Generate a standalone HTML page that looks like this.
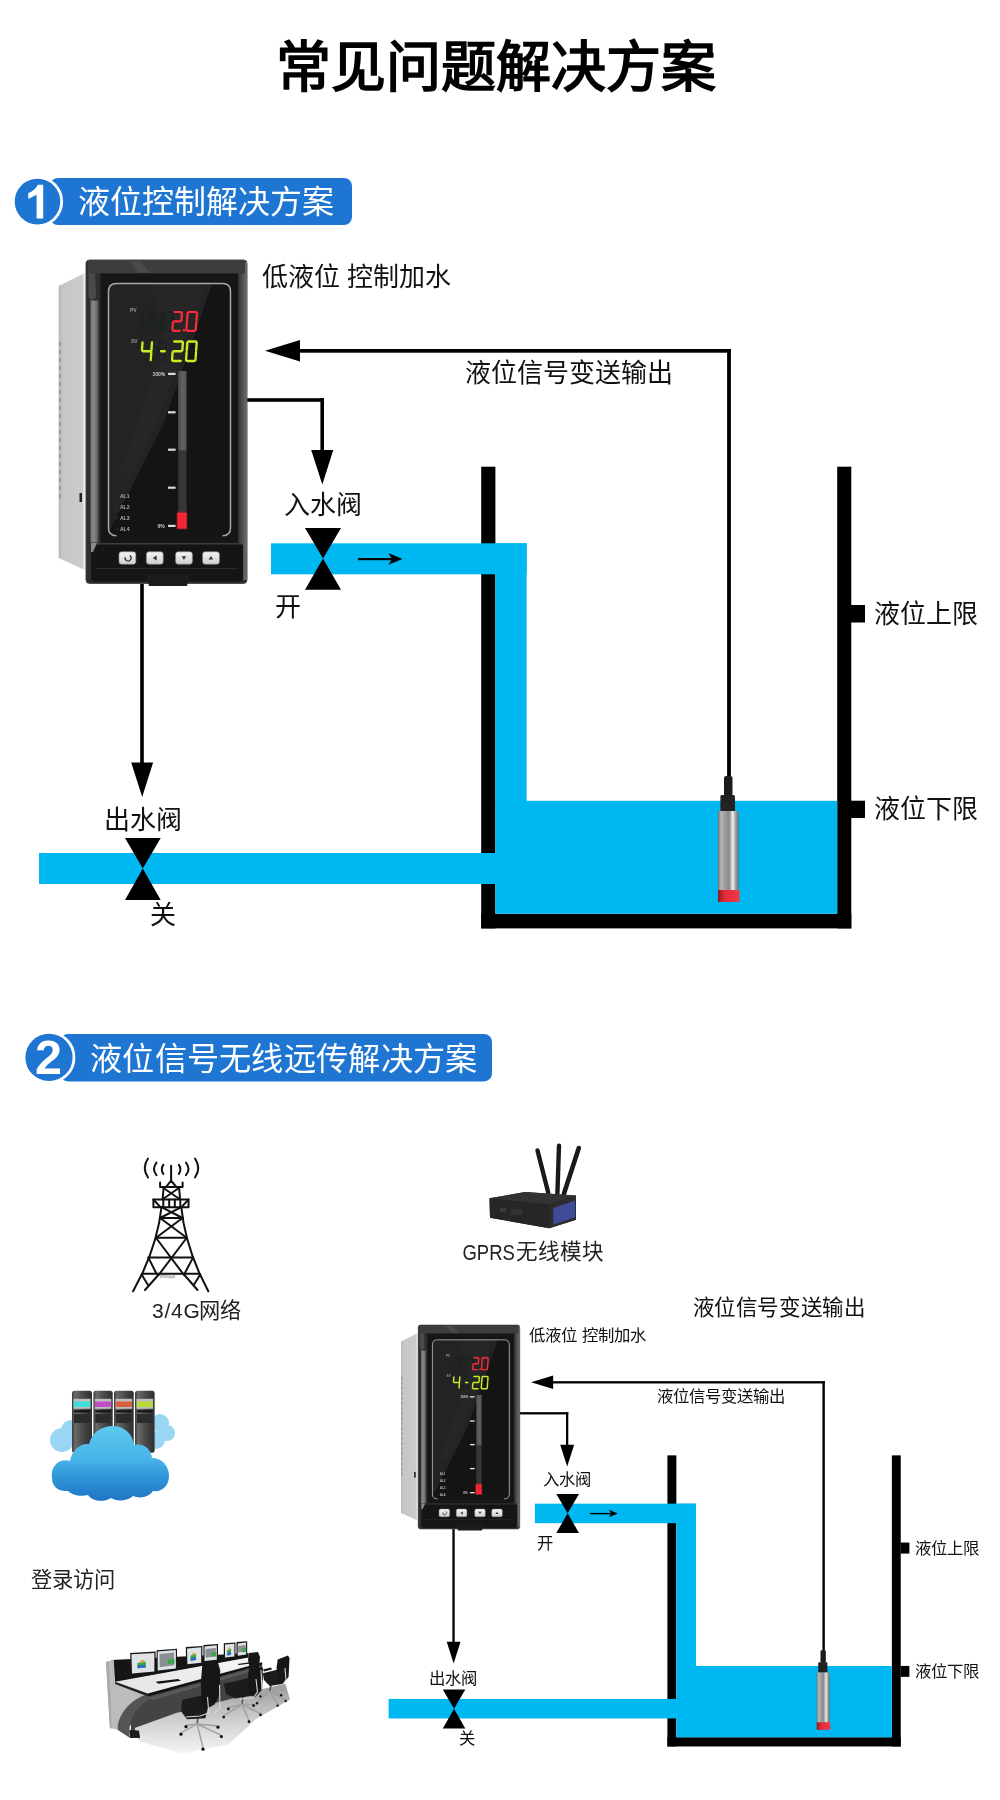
<!DOCTYPE html>
<html lang="zh-CN"><head><meta charset="utf-8"><title>常见问题解决方案</title>
<style>
html,body{margin:0;padding:0;background:#fff;}
body{width:1000px;height:1800px;overflow:hidden;position:relative;font-family:"Liberation Sans",sans-serif;}
svg{position:absolute;left:0;top:0;display:block;will-change:transform;}
svg text{font-family:"Liberation Sans",sans-serif;}
</style></head><body>
<svg width="1000" height="1800" viewBox="0 0 1000 1800">
<text x="495.5" y="86" text-anchor="middle" font-size="55" font-weight="bold" fill="#000">常见问题解决方案</text>
<!-- badge 1 -->
<rect x="50" y="178" width="302" height="47" rx="8" fill="#1e76d2"/>
<circle cx="37.5" cy="201.6" r="24.2" fill="#1e76d2" stroke="#fff" stroke-width="2.8"/>
<path d="M37.9,184.8 L43.2,184.8 L43.2,218.6 L36.6,218.6 L36.6,194.7 L28.3,198.9 L28.3,193.1 C32.5,191.5 35.9,188.8 37.9,184.8 Z" fill="#fff"/>
<text x="78" y="213" font-size="32" fill="#fff">液位控制解决方案</text>
<!-- badge 2 -->
<rect x="60" y="1034" width="432" height="47.4" rx="8" fill="#1e76d2"/>
<circle cx="49" cy="1057.4" r="25" fill="#1e76d2" stroke="#fff" stroke-width="2.8"/>
<text x="48.5" y="1074.2" text-anchor="middle" font-size="48.5" font-weight="bold" fill="#fff">2</text>
<text x="90" y="1069.5" font-size="32.2" letter-spacing="0.3" fill="#fff">液位信号无线远传解决方案</text>
<g>
<!-- tank walls -->
<rect x="481.2" y="466.7" width="14.2" height="461.7" fill="#000"/>
<rect x="837.2" y="466.7" width="14.1" height="461.7" fill="#000"/>
<rect x="481.2" y="913.8" width="370.1" height="14.6" fill="#000"/>
<rect x="851" y="605" width="14" height="17.5" fill="#000"/>
<rect x="851" y="800.7" width="14" height="17.3" fill="#000"/>
<!-- water -->
<g fill="#00b8f1">
<rect x="271" y="543.3" width="255.6" height="31"/>
<rect x="495.4" y="543.3" width="31.2" height="258"/>
<rect x="495.4" y="800.8" width="341.8" height="113"/>
<rect x="39" y="853" width="457" height="31"/>
</g>
<!-- valves -->
<polygon points="305,528 341,528 323,558.6 341,589.8 305,589.8 323,558.6" fill="#000"/>
<polygon points="125,838 160.7,838 142.8,868.5 160.7,900 125,900 142.8,868.5" fill="#000"/>
<!-- small flow arrow -->
<rect x="358" y="558" width="34" height="2.2" fill="#000"/>
<path d="M388.5,553 L402.5,559.1 L388.5,564.8 L392,559.1 Z" fill="#000"/>
<!-- signal line -->
<rect x="298" y="349" width="433" height="3.7" fill="#000"/>
<rect x="727.1" y="349" width="3.8" height="430" fill="#000"/>
<polygon points="265,350.8 300,340 300,361.6" fill="#000"/>
<!-- control to inlet valve -->
<rect x="246" y="398.2" width="78" height="3.6" fill="#000"/>
<rect x="320.4" y="398.2" width="3.6" height="54" fill="#000"/>
<polygon points="311.2,450 333.3,450 322.3,484.5" fill="#000"/>
<!-- control to outlet -->
<rect x="140.2" y="580" width="3.6" height="185" fill="#000"/>
<polygon points="131.2,762.5 153.1,762.5 142.2,797" fill="#000"/>
<!-- sensor -->
<defs>
<linearGradient id="steel" x1="0" x2="1" y1="0" y2="0">
<stop offset="0" stop-color="#6e6e6e"/><stop offset="0.15" stop-color="#b8b8b8"/><stop offset="0.35" stop-color="#9a9a9a"/><stop offset="0.55" stop-color="#8c8c8c"/><stop offset="0.72" stop-color="#f0f0f0"/><stop offset="0.85" stop-color="#a8a8a8"/><stop offset="1" stop-color="#6a6a6a"/>
</linearGradient>
<linearGradient id="redcap" x1="0" x2="1" y1="0" y2="0">
<stop offset="0" stop-color="#8a1a22"/><stop offset="0.3" stop-color="#e02a38"/><stop offset="1" stop-color="#f23a44"/>
</linearGradient>
</defs>
<rect x="724" y="776" width="8.5" height="20" rx="2" fill="#1c1c1c"/>
<rect x="720.4" y="795" width="14.6" height="16.5" rx="1.5" fill="#222"/>
<rect x="718" y="811" width="20.5" height="79.5" fill="url(#steel)"/>
<rect x="718" y="890" width="21.5" height="12" fill="url(#redcap)"/>
<!-- texts -->
<g font-size="26" fill="#111">
<text x="262" y="286">低液位 控制加水</text>
<text x="465" y="382">液位信号变送输出</text>
<text x="284" y="514">入水阀</text>
<text x="275" y="616">开</text>
<text x="103.5" y="829">出水阀</text>
<text x="150" y="924">关</text>
<text x="874" y="623">液位上限</text>
<text x="874" y="818">液位下限</text>
</g>
<!-- device placeholder -->
<g id="dev">
<defs>
<linearGradient id="sideG" x1="0" x2="1" y1="0" y2="0"><stop offset="0" stop-color="#b4b4b4"/><stop offset="0.12" stop-color="#c6c6c6"/><stop offset="0.85" stop-color="#cbcbcb"/><stop offset="0.9" stop-color="#eeeeee"/><stop offset="1" stop-color="#f2f2f2"/></linearGradient>
<linearGradient id="bezL" x1="0" x2="1" y1="0" y2="0"><stop offset="0" stop-color="#6a6a6a"/><stop offset="0.4" stop-color="#8a8a8a"/><stop offset="1" stop-color="#5a5a5a"/></linearGradient>
<linearGradient id="bezR" x1="0" x2="1" y1="0" y2="0"><stop offset="0" stop-color="#2a2a2a"/><stop offset="0.4" stop-color="#4a4a4a"/><stop offset="1" stop-color="#6a6e72"/></linearGradient>
<linearGradient id="barG" x1="0" x2="1" y1="0" y2="0"><stop offset="0" stop-color="#4a4a4a"/><stop offset="0.5" stop-color="#626262"/><stop offset="1" stop-color="#555"/></linearGradient>
<linearGradient id="btnG" x1="0" x2="0" y1="0" y2="1"><stop offset="0" stop-color="#f4f4f4"/><stop offset="1" stop-color="#cfcfcf"/></linearGradient>
</defs>
<polygon points="58.7,286 84,273.5 87,273.5 87,571 58.7,558" fill="url(#sideG)"/>
<g fill="#9c9c9c">
<rect x="59" y="342" width="2.2" height="4.5"/>
<rect x="59" y="350" width="2.2" height="4.5"/>
<rect x="59" y="358" width="2.2" height="4.5"/>
<rect x="59" y="366" width="2.2" height="4.5"/>
<rect x="59" y="374" width="2.2" height="4.5"/>
<rect x="59" y="382" width="2.2" height="4.5"/>
<rect x="59" y="390" width="2.2" height="4.5"/>
<rect x="59" y="398" width="2.2" height="4.5"/>
<rect x="59" y="406" width="2.2" height="4.5"/>
<rect x="59" y="414" width="2.2" height="4.5"/>
<rect x="59" y="422" width="2.2" height="4.5"/>
<rect x="59" y="430" width="2.2" height="4.5"/>
<rect x="59" y="438" width="2.2" height="4.5"/>
<rect x="59" y="446" width="2.2" height="4.5"/>
<rect x="59" y="454" width="2.2" height="4.5"/>
<rect x="59" y="462" width="2.2" height="4.5"/>
<rect x="59" y="470" width="2.2" height="4.5"/>
<rect x="59" y="478" width="2.2" height="4.5"/>
<rect x="59" y="486" width="2.2" height="4.5"/>
<rect x="59" y="494" width="2.2" height="4.5"/>
</g>
<rect x="79.5" y="493" width="2.5" height="9" fill="#222"/>
<rect x="86" y="260" width="161" height="323.5" rx="3.5" fill="#2b2b2b" stroke="#505050" stroke-width="1"/>
<rect x="86.5" y="262" width="14" height="318" fill="#2e2e2e"/>
<rect x="90.4" y="300.5" width="7.8" height="242" fill="url(#bezL)"/>
<path d="M88.5,264 L95,268 L96,297 L92,300 L88.5,297 Z" fill="#4a4a4a"/>
<rect x="237.5" y="262" width="9.5" height="318" fill="url(#bezR)"/>
<rect x="88" y="261" width="157" height="12.5" fill="#3d3d3d"/>
<polygon points="130,261 140,261 150,273 138,273" fill="#4a4a4a"/>
<rect x="100.5" y="273.5" width="137.5" height="270" fill="#161616"/>
<rect x="108.5" y="283.5" width="122" height="252" rx="7" fill="#141414"/>
<polygon points="108.5,284 212,284 184,365 163,425 125,500 108.5,532" fill="#232323"/>
<polygon points="150,284 205,284 180,360 158,420 130,480 120,470 145,400 165,340" fill="#282828" opacity="0.6"/>
<path d="M116.5,535.8 Q108.5,535.8 108.5,527.8 L108.5,291.5 Q108.5,283.5 116.5,283.5 L222.5,283.5 Q230.5,283.5 230.5,291.5 L230.5,527.8 Q230.5,535.8 222.5,535.8" fill="none" stroke="#a8a8a8" stroke-width="1.5"/>
<g font-size="5" fill="#9a9a9a" font-weight="bold">
<text x="130" y="311.5">PV</text><text x="131" y="342.5">SV</text>
</g>

<path d="M143.73,312.00L149.93,312.00M150.77,312.90L150.23,320.60M150.10,322.40L149.56,330.10M142.40,331.00L148.60,331.00M142.10,322.40L141.56,330.10M142.77,312.90L142.23,320.60M143.06,321.50L149.26,321.50" stroke="#1c2222" stroke-width="1.8" stroke-linecap="round" fill="none"/>
<path d="M154.73,312.00L160.93,312.00M161.77,312.90L161.23,320.60M161.10,322.40L160.56,330.10M153.40,331.00L159.60,331.00M153.10,322.40L152.56,330.10M153.77,312.90L153.23,320.60M154.06,321.50L160.26,321.50" stroke="#1c2222" stroke-width="1.8" stroke-linecap="round" fill="none"/>
<path d="M165.73,312.00L171.93,312.00M172.77,312.90L172.23,320.60M172.10,322.40L171.56,330.10M164.40,331.00L170.60,331.00M164.10,322.40L163.56,330.10M164.77,312.90L164.23,320.60M165.06,321.50L171.26,321.50" stroke="#1c2222" stroke-width="1.8" stroke-linecap="round" fill="none"/>
<path d="M174.52,312.00L181.12,312.00M181.95,312.90L181.42,320.50M173.86,321.40L180.46,321.40M172.90,322.30L172.36,329.90M173.20,330.80L179.80,330.80" stroke="#ff2b3a" stroke-width="2.2" stroke-linecap="round" fill="none"/>
<rect x="182.9" y="328.9" width="2.4" height="2.4" fill="#ff2b3a"/>
<path d="M188.52,312.00L196.12,312.00M196.95,312.90L196.42,320.50M196.30,322.30L195.76,329.90M187.20,330.80L194.80,330.80M186.90,322.30L186.36,329.90M187.55,312.90L187.02,320.50" stroke="#ff2b3a" stroke-width="2.2" stroke-linecap="round" fill="none"/>
<path d="M159.73,341.50L165.43,341.50M166.27,342.40L165.73,350.10M165.60,351.90L165.06,359.60M158.40,360.50L164.10,360.50M158.10,351.90L157.56,359.60M158.77,342.40L158.23,350.10M159.06,351.00L164.76,351.00" stroke="#1c2222" stroke-width="1.8" stroke-linecap="round" fill="none"/>
<path d="M142.50,342.40L141.95,350.35M142.78,351.25L150.48,351.25M152.00,342.40L151.45,350.35M151.32,352.15L150.76,360.10" stroke="#c6ee22" stroke-width="2.3" stroke-linecap="round" fill="none"/>
<path d="M161.08,351.25L164.78,351.25" stroke="#c6ee22" stroke-width="2.3" stroke-linecap="round" fill="none"/>
<path d="M174.27,341.50L182.06,341.50M182.90,342.40L182.35,350.35M173.58,351.25L181.38,351.25M172.62,352.15L172.06,360.10M172.90,361.00L180.70,361.00" stroke="#c6ee22" stroke-width="2.3" stroke-linecap="round" fill="none"/>
<path d="M188.27,341.50L195.87,341.50M196.70,342.40L196.15,350.35M196.02,352.15L195.46,360.10M186.90,361.00L194.50,361.00M186.62,352.15L186.06,360.10M187.30,342.40L186.75,350.35" stroke="#c6ee22" stroke-width="2.3" stroke-linecap="round" fill="none"/>
<rect x="178.2" y="371" width="8.2" height="157.5" fill="#3a3a3a"/>
<rect x="178.2" y="371" width="8.2" height="79.5" fill="url(#barG)"/>
<g stroke="#2c2c2c" stroke-width="0.6">
<line x1="178.2" y1="451.0" x2="186.4" y2="451.0"/>
<line x1="178.2" y1="453.5" x2="186.4" y2="453.5"/>
<line x1="178.2" y1="456.0" x2="186.4" y2="456.0"/>
<line x1="178.2" y1="458.5" x2="186.4" y2="458.5"/>
<line x1="178.2" y1="461.0" x2="186.4" y2="461.0"/>
<line x1="178.2" y1="463.5" x2="186.4" y2="463.5"/>
<line x1="178.2" y1="466.0" x2="186.4" y2="466.0"/>
<line x1="178.2" y1="468.5" x2="186.4" y2="468.5"/>
<line x1="178.2" y1="471.0" x2="186.4" y2="471.0"/>
<line x1="178.2" y1="473.5" x2="186.4" y2="473.5"/>
<line x1="178.2" y1="476.0" x2="186.4" y2="476.0"/>
<line x1="178.2" y1="478.5" x2="186.4" y2="478.5"/>
<line x1="178.2" y1="481.0" x2="186.4" y2="481.0"/>
<line x1="178.2" y1="483.5" x2="186.4" y2="483.5"/>
<line x1="178.2" y1="486.0" x2="186.4" y2="486.0"/>
<line x1="178.2" y1="488.5" x2="186.4" y2="488.5"/>
<line x1="178.2" y1="491.0" x2="186.4" y2="491.0"/>
<line x1="178.2" y1="493.5" x2="186.4" y2="493.5"/>
<line x1="178.2" y1="496.0" x2="186.4" y2="496.0"/>
<line x1="178.2" y1="498.5" x2="186.4" y2="498.5"/>
<line x1="178.2" y1="501.0" x2="186.4" y2="501.0"/>
<line x1="178.2" y1="503.5" x2="186.4" y2="503.5"/>
<line x1="178.2" y1="506.0" x2="186.4" y2="506.0"/>
<line x1="178.2" y1="508.5" x2="186.4" y2="508.5"/>
<line x1="178.2" y1="511.0" x2="186.4" y2="511.0"/>
</g>
<rect x="176.5" y="511.5" width="11" height="18" fill="#ff2030" opacity="0.35"/>
<rect x="177.4" y="513" width="9" height="15.5" fill="#ff2a36"/>
<g stroke="#d42030" stroke-width="0.5"><line x1="177.4" y1="516" x2="186.4" y2="516"/><line x1="177.4" y1="519" x2="186.4" y2="519"/><line x1="177.4" y1="522" x2="186.4" y2="522"/><line x1="177.4" y1="525" x2="186.4" y2="525"/><line x1="180.4" y1="513" x2="180.4" y2="528.5"/><line x1="183.4" y1="513" x2="183.4" y2="528.5"/></g>
<g fill="#d8d8d8">
<rect x="168" y="372.8" width="7.6" height="2.2"/><rect x="168" y="411.2" width="7.6" height="2.2"/><rect x="168" y="448.6" width="7.6" height="2.2"/><rect x="168" y="486.6" width="7.6" height="2.2"/><rect x="168" y="524.8" width="7.6" height="2.2"/>
</g>
<g font-size="5" fill="#d0d0d0" font-weight="bold"><text x="152.5" y="376">100%</text><text x="157.5" y="528">0%</text></g>
<g font-size="5" fill="#b0b0b0" font-weight="bold"><text x="120" y="497.5">AL1</text><text x="120" y="508.7">AL2</text><text x="120" y="519.7">AL3</text><text x="120" y="531">AL4</text></g>
<g fill="#3a2020"><circle cx="117" cy="495.7" r="1.3"/><circle cx="117" cy="507" r="1.3"/><circle cx="117" cy="518" r="1.3"/><circle cx="117" cy="529.3" r="1.3"/></g>
<rect x="91" y="543" width="152" height="38.5" rx="4" fill="#151515"/>
<rect x="92" y="543" width="150" height="1.5" fill="#3c3c3c"/>
<rect x="96" y="568" width="142" height="1" fill="#2a2a2a"/>
<polygon points="91,543 97,543 93,552 91,552" fill="#8a8a8a"/>
<polygon points="146,574 190,574 187,586 149,586" fill="#1b1b1b"/>

<rect x="119" y="551.8" width="16.8" height="12.4" rx="2.6" fill="url(#btnG)" stroke="#8a8a8a" stroke-width="0.6"/>
<rect x="146.4" y="551.8" width="16.8" height="12.4" rx="2.6" fill="url(#btnG)" stroke="#8a8a8a" stroke-width="0.6"/>
<rect x="175.6" y="551.8" width="16.8" height="12.4" rx="2.6" fill="url(#btnG)" stroke="#8a8a8a" stroke-width="0.6"/>
<rect x="202.6" y="551.8" width="16.8" height="12.4" rx="2.6" fill="url(#btnG)" stroke="#8a8a8a" stroke-width="0.6"/>
<path d="M129.9,555.6 A3,3 0 1 1 125.2,557.2" fill="none" stroke="#333" stroke-width="1.3"/>
<polygon points="152.8,558 156.6,555.6 156.6,560.4" fill="#333"/>
<polygon points="181.6,556.3 186.2,556.3 183.9,559.8" fill="#333"/>
<polygon points="208.6,559.6 213.2,559.6 210.9,556.1" fill="#333"/>
</g>
</g>
<g transform="translate(364.0,1161.1) scale(0.6305)">
<!-- tank walls -->
<rect x="481.2" y="466.7" width="14.2" height="461.7" fill="#000"/>
<rect x="837.2" y="466.7" width="14.1" height="461.7" fill="#000"/>
<rect x="481.2" y="913.8" width="370.1" height="14.6" fill="#000"/>
<rect x="851" y="605" width="14" height="17.5" fill="#000"/>
<rect x="851" y="800.7" width="14" height="17.3" fill="#000"/>
<!-- water -->
<g fill="#00b8f1">
<rect x="271" y="543.3" width="255.6" height="31"/>
<rect x="495.4" y="543.3" width="31.2" height="258"/>
<rect x="495.4" y="800.8" width="341.8" height="113"/>
<rect x="39" y="853" width="457" height="31"/>
</g>
<!-- valves -->
<polygon points="305,528 341,528 323,558.6 341,589.8 305,589.8 323,558.6" fill="#000"/>
<polygon points="125,838 160.7,838 142.8,868.5 160.7,900 125,900 142.8,868.5" fill="#000"/>
<!-- small flow arrow -->
<rect x="358" y="558" width="34" height="2.2" fill="#000"/>
<path d="M388.5,553 L402.5,559.1 L388.5,564.8 L392,559.1 Z" fill="#000"/>
<!-- signal line -->
<rect x="298" y="349" width="433" height="3.7" fill="#000"/>
<rect x="727.1" y="349" width="3.8" height="430" fill="#000"/>
<polygon points="265,350.8 300,340 300,361.6" fill="#000"/>
<!-- control to inlet valve -->
<rect x="246" y="398.2" width="78" height="3.6" fill="#000"/>
<rect x="320.4" y="398.2" width="3.6" height="54" fill="#000"/>
<polygon points="311.2,450 333.3,450 322.3,484.5" fill="#000"/>
<!-- control to outlet -->
<rect x="140.2" y="580" width="3.6" height="185" fill="#000"/>
<polygon points="131.2,762.5 153.1,762.5 142.2,797" fill="#000"/>
<!-- sensor -->

<rect x="724" y="776" width="8.5" height="20" rx="2" fill="#1c1c1c"/>
<rect x="720.4" y="795" width="14.6" height="16.5" rx="1.5" fill="#222"/>
<rect x="718" y="811" width="20.5" height="79.5" fill="url(#steel)"/>
<rect x="718" y="890" width="21.5" height="12" fill="url(#redcap)"/>
<!-- texts -->
<g font-size="26" fill="#111">
<text x="262" y="286">低液位 控制加水</text>
<text x="465" y="382">液位信号变送输出</text>
<text x="284" y="514">入水阀</text>
<text x="275" y="616">开</text>
<text x="103.5" y="829">出水阀</text>
<text x="150" y="924">关</text>
<text x="874" y="623">液位上限</text>
<text x="874" y="818">液位下限</text>
</g>
<!-- device placeholder -->
<g>

<polygon points="58.7,286 84,273.5 87,273.5 87,571 58.7,558" fill="url(#sideG)"/>
<g fill="#9c9c9c">
<rect x="59" y="342" width="2.2" height="4.5"/>
<rect x="59" y="350" width="2.2" height="4.5"/>
<rect x="59" y="358" width="2.2" height="4.5"/>
<rect x="59" y="366" width="2.2" height="4.5"/>
<rect x="59" y="374" width="2.2" height="4.5"/>
<rect x="59" y="382" width="2.2" height="4.5"/>
<rect x="59" y="390" width="2.2" height="4.5"/>
<rect x="59" y="398" width="2.2" height="4.5"/>
<rect x="59" y="406" width="2.2" height="4.5"/>
<rect x="59" y="414" width="2.2" height="4.5"/>
<rect x="59" y="422" width="2.2" height="4.5"/>
<rect x="59" y="430" width="2.2" height="4.5"/>
<rect x="59" y="438" width="2.2" height="4.5"/>
<rect x="59" y="446" width="2.2" height="4.5"/>
<rect x="59" y="454" width="2.2" height="4.5"/>
<rect x="59" y="462" width="2.2" height="4.5"/>
<rect x="59" y="470" width="2.2" height="4.5"/>
<rect x="59" y="478" width="2.2" height="4.5"/>
<rect x="59" y="486" width="2.2" height="4.5"/>
<rect x="59" y="494" width="2.2" height="4.5"/>
</g>
<rect x="79.5" y="493" width="2.5" height="9" fill="#222"/>
<rect x="86" y="260" width="161" height="323.5" rx="3.5" fill="#2b2b2b" stroke="#505050" stroke-width="1"/>
<rect x="86.5" y="262" width="14" height="318" fill="#2e2e2e"/>
<rect x="90.4" y="300.5" width="7.8" height="242" fill="url(#bezL)"/>
<path d="M88.5,264 L95,268 L96,297 L92,300 L88.5,297 Z" fill="#4a4a4a"/>
<rect x="237.5" y="262" width="9.5" height="318" fill="url(#bezR)"/>
<rect x="88" y="261" width="157" height="12.5" fill="#3d3d3d"/>
<polygon points="130,261 140,261 150,273 138,273" fill="#4a4a4a"/>
<rect x="100.5" y="273.5" width="137.5" height="270" fill="#161616"/>
<rect x="108.5" y="283.5" width="122" height="252" rx="7" fill="#141414"/>
<polygon points="108.5,284 212,284 184,365 163,425 125,500 108.5,532" fill="#232323"/>
<polygon points="150,284 205,284 180,360 158,420 130,480 120,470 145,400 165,340" fill="#282828" opacity="0.6"/>
<path d="M116.5,535.8 Q108.5,535.8 108.5,527.8 L108.5,291.5 Q108.5,283.5 116.5,283.5 L222.5,283.5 Q230.5,283.5 230.5,291.5 L230.5,527.8 Q230.5,535.8 222.5,535.8" fill="none" stroke="#a8a8a8" stroke-width="1.5"/>
<g font-size="5" fill="#9a9a9a" font-weight="bold">
<text x="130" y="311.5">PV</text><text x="131" y="342.5">SV</text>
</g>

<path d="M143.73,312.00L149.93,312.00M150.77,312.90L150.23,320.60M150.10,322.40L149.56,330.10M142.40,331.00L148.60,331.00M142.10,322.40L141.56,330.10M142.77,312.90L142.23,320.60M143.06,321.50L149.26,321.50" stroke="#1c2222" stroke-width="1.8" stroke-linecap="round" fill="none"/>
<path d="M154.73,312.00L160.93,312.00M161.77,312.90L161.23,320.60M161.10,322.40L160.56,330.10M153.40,331.00L159.60,331.00M153.10,322.40L152.56,330.10M153.77,312.90L153.23,320.60M154.06,321.50L160.26,321.50" stroke="#1c2222" stroke-width="1.8" stroke-linecap="round" fill="none"/>
<path d="M165.73,312.00L171.93,312.00M172.77,312.90L172.23,320.60M172.10,322.40L171.56,330.10M164.40,331.00L170.60,331.00M164.10,322.40L163.56,330.10M164.77,312.90L164.23,320.60M165.06,321.50L171.26,321.50" stroke="#1c2222" stroke-width="1.8" stroke-linecap="round" fill="none"/>
<path d="M174.52,312.00L181.12,312.00M181.95,312.90L181.42,320.50M173.86,321.40L180.46,321.40M172.90,322.30L172.36,329.90M173.20,330.80L179.80,330.80" stroke="#ff2b3a" stroke-width="2.2" stroke-linecap="round" fill="none"/>
<rect x="182.9" y="328.9" width="2.4" height="2.4" fill="#ff2b3a"/>
<path d="M188.52,312.00L196.12,312.00M196.95,312.90L196.42,320.50M196.30,322.30L195.76,329.90M187.20,330.80L194.80,330.80M186.90,322.30L186.36,329.90M187.55,312.90L187.02,320.50" stroke="#ff2b3a" stroke-width="2.2" stroke-linecap="round" fill="none"/>
<path d="M159.73,341.50L165.43,341.50M166.27,342.40L165.73,350.10M165.60,351.90L165.06,359.60M158.40,360.50L164.10,360.50M158.10,351.90L157.56,359.60M158.77,342.40L158.23,350.10M159.06,351.00L164.76,351.00" stroke="#1c2222" stroke-width="1.8" stroke-linecap="round" fill="none"/>
<path d="M142.50,342.40L141.95,350.35M142.78,351.25L150.48,351.25M152.00,342.40L151.45,350.35M151.32,352.15L150.76,360.10" stroke="#c6ee22" stroke-width="2.3" stroke-linecap="round" fill="none"/>
<path d="M161.08,351.25L164.78,351.25" stroke="#c6ee22" stroke-width="2.3" stroke-linecap="round" fill="none"/>
<path d="M174.27,341.50L182.06,341.50M182.90,342.40L182.35,350.35M173.58,351.25L181.38,351.25M172.62,352.15L172.06,360.10M172.90,361.00L180.70,361.00" stroke="#c6ee22" stroke-width="2.3" stroke-linecap="round" fill="none"/>
<path d="M188.27,341.50L195.87,341.50M196.70,342.40L196.15,350.35M196.02,352.15L195.46,360.10M186.90,361.00L194.50,361.00M186.62,352.15L186.06,360.10M187.30,342.40L186.75,350.35" stroke="#c6ee22" stroke-width="2.3" stroke-linecap="round" fill="none"/>
<rect x="178.2" y="371" width="8.2" height="157.5" fill="#3a3a3a"/>
<rect x="178.2" y="371" width="8.2" height="79.5" fill="url(#barG)"/>
<g stroke="#2c2c2c" stroke-width="0.6">
<line x1="178.2" y1="451.0" x2="186.4" y2="451.0"/>
<line x1="178.2" y1="453.5" x2="186.4" y2="453.5"/>
<line x1="178.2" y1="456.0" x2="186.4" y2="456.0"/>
<line x1="178.2" y1="458.5" x2="186.4" y2="458.5"/>
<line x1="178.2" y1="461.0" x2="186.4" y2="461.0"/>
<line x1="178.2" y1="463.5" x2="186.4" y2="463.5"/>
<line x1="178.2" y1="466.0" x2="186.4" y2="466.0"/>
<line x1="178.2" y1="468.5" x2="186.4" y2="468.5"/>
<line x1="178.2" y1="471.0" x2="186.4" y2="471.0"/>
<line x1="178.2" y1="473.5" x2="186.4" y2="473.5"/>
<line x1="178.2" y1="476.0" x2="186.4" y2="476.0"/>
<line x1="178.2" y1="478.5" x2="186.4" y2="478.5"/>
<line x1="178.2" y1="481.0" x2="186.4" y2="481.0"/>
<line x1="178.2" y1="483.5" x2="186.4" y2="483.5"/>
<line x1="178.2" y1="486.0" x2="186.4" y2="486.0"/>
<line x1="178.2" y1="488.5" x2="186.4" y2="488.5"/>
<line x1="178.2" y1="491.0" x2="186.4" y2="491.0"/>
<line x1="178.2" y1="493.5" x2="186.4" y2="493.5"/>
<line x1="178.2" y1="496.0" x2="186.4" y2="496.0"/>
<line x1="178.2" y1="498.5" x2="186.4" y2="498.5"/>
<line x1="178.2" y1="501.0" x2="186.4" y2="501.0"/>
<line x1="178.2" y1="503.5" x2="186.4" y2="503.5"/>
<line x1="178.2" y1="506.0" x2="186.4" y2="506.0"/>
<line x1="178.2" y1="508.5" x2="186.4" y2="508.5"/>
<line x1="178.2" y1="511.0" x2="186.4" y2="511.0"/>
</g>
<rect x="176.5" y="511.5" width="11" height="18" fill="#ff2030" opacity="0.35"/>
<rect x="177.4" y="513" width="9" height="15.5" fill="#ff2a36"/>
<g stroke="#d42030" stroke-width="0.5"><line x1="177.4" y1="516" x2="186.4" y2="516"/><line x1="177.4" y1="519" x2="186.4" y2="519"/><line x1="177.4" y1="522" x2="186.4" y2="522"/><line x1="177.4" y1="525" x2="186.4" y2="525"/><line x1="180.4" y1="513" x2="180.4" y2="528.5"/><line x1="183.4" y1="513" x2="183.4" y2="528.5"/></g>
<g fill="#d8d8d8">
<rect x="168" y="372.8" width="7.6" height="2.2"/><rect x="168" y="411.2" width="7.6" height="2.2"/><rect x="168" y="448.6" width="7.6" height="2.2"/><rect x="168" y="486.6" width="7.6" height="2.2"/><rect x="168" y="524.8" width="7.6" height="2.2"/>
</g>
<g font-size="5" fill="#d0d0d0" font-weight="bold"><text x="152.5" y="376">100%</text><text x="157.5" y="528">0%</text></g>
<g font-size="5" fill="#b0b0b0" font-weight="bold"><text x="120" y="497.5">AL1</text><text x="120" y="508.7">AL2</text><text x="120" y="519.7">AL3</text><text x="120" y="531">AL4</text></g>
<g fill="#3a2020"><circle cx="117" cy="495.7" r="1.3"/><circle cx="117" cy="507" r="1.3"/><circle cx="117" cy="518" r="1.3"/><circle cx="117" cy="529.3" r="1.3"/></g>
<rect x="91" y="543" width="152" height="38.5" rx="4" fill="#151515"/>
<rect x="92" y="543" width="150" height="1.5" fill="#3c3c3c"/>
<rect x="96" y="568" width="142" height="1" fill="#2a2a2a"/>
<polygon points="91,543 97,543 93,552 91,552" fill="#8a8a8a"/>
<polygon points="146,574 190,574 187,586 149,586" fill="#1b1b1b"/>

<rect x="119" y="551.8" width="16.8" height="12.4" rx="2.6" fill="url(#btnG)" stroke="#8a8a8a" stroke-width="0.6"/>
<rect x="146.4" y="551.8" width="16.8" height="12.4" rx="2.6" fill="url(#btnG)" stroke="#8a8a8a" stroke-width="0.6"/>
<rect x="175.6" y="551.8" width="16.8" height="12.4" rx="2.6" fill="url(#btnG)" stroke="#8a8a8a" stroke-width="0.6"/>
<rect x="202.6" y="551.8" width="16.8" height="12.4" rx="2.6" fill="url(#btnG)" stroke="#8a8a8a" stroke-width="0.6"/>
<path d="M129.9,555.6 A3,3 0 1 1 125.2,557.2" fill="none" stroke="#333" stroke-width="1.3"/>
<polygon points="152.8,558 156.6,555.6 156.6,560.4" fill="#333"/>
<polygon points="181.6,556.3 186.2,556.3 183.9,559.8" fill="#333"/>
<polygon points="208.6,559.6 213.2,559.6 210.9,556.1" fill="#333"/>
</g>
</g>
<text x="692.5" y="1315" font-size="21.5" letter-spacing="-0.37" fill="#111">液位信号变送输出</text>
<!-- tower -->
<g fill="none" stroke="#111" stroke-width="2" stroke-linecap="round" stroke-linejoin="round">
<path d="M148,1158.5 Q141.5,1168 148,1177.5"/>
<path d="M156.5,1162.6 Q151.5,1168.9 156.5,1175.2"/>
<path d="M163.3,1164.9 Q160.3,1169.4 163.3,1173.9"/>
<path d="M178.9,1164.9 Q181.9,1169.4 178.9,1173.9"/>
<path d="M186,1162.6 Q191,1168.9 186,1175.2"/>
<path d="M195,1158.5 Q201.5,1168 195,1177.5"/>
<path d="M171.1,1165.8 L171.1,1180.6"/>
<path d="M166.4,1186.5 L171.1,1180.6 L175.9,1186.5"/>
<path d="M160.1,1182.4 L160.1,1186.9 L182.6,1186.9 L182.6,1182.4"/>
<path d="M163.7,1186.9 L162.6,1199.5 M179,1186.9 L180.1,1199.5"/>
<path d="M163.5,1188 L179.5,1199 M178.8,1188 L163,1199"/>
<rect x="153.4" y="1199.5" width="35.1" height="7.7"/>
<path d="M163.3,1199.5 L163.3,1207.2 M169.2,1199.5 L169.2,1207.2 M174.8,1199.5 L174.8,1207.2 M180.3,1199.5 L180.3,1207.2"/>
<path d="M153.4,1199.5 L160.5,1207.2 M188.5,1199.5 L181.5,1207.2"/>
<path d="M161.5,1207.2 Q158,1240 142.1,1273.8 L133.1,1291.3"/>
<path d="M181.3,1207.2 Q184.5,1240 199.7,1273.8 L208.3,1291.3"/>
<path d="M161.5,1207.2 L182.6,1218 M181.3,1207.2 L160.1,1218"/>
<path d="M160.1,1218 L182.6,1218"/>
<path d="M160.1,1218 L186.7,1237.8 M182.6,1218 L156,1237.8"/>
<path d="M156,1237.8 L186.7,1237.8"/>
<path d="M156.5,1238.5 L184,1275 M186.2,1238.5 L158.6,1275"/>
<path d="M148.4,1257.6 L193,1257.6"/>
<path d="M148.4,1257.6 L156.5,1273.8 M193,1257.6 L184.5,1273.8"/>
<path d="M142.1,1273.8 L199.7,1273.8"/>
<path d="M141.6,1274.5 L148,1285 M158.8,1274.5 L145,1290 M200.2,1274.5 L193.8,1285 M184,1274.5 L197.5,1290"/>
</g>
<text x="159.5" y="1278.3" font-size="3.6" fill="#666">四四福报</text>
<text x="152" y="1317.5" font-size="21" fill="#222" letter-spacing="0.8">3/4G</text><text x="199" y="1318" font-size="21.2" fill="#222">网络</text>
<!-- GPRS module -->
<g stroke-linecap="round">
<line x1="537.5" y1="1150.5" x2="548.2" y2="1192.5" stroke="#1a1a1a" stroke-width="4.4"/>
<line x1="559" y1="1145.8" x2="557.4" y2="1193.5" stroke="#1a1a1a" stroke-width="4.4"/>
<line x1="578.8" y1="1148" x2="564" y2="1193.5" stroke="#1a1a1a" stroke-width="4.6"/>
</g>
<polygon points="489.5,1198.3 525.2,1192 576,1195.6 576,1219.8 549.3,1228.2 490,1217.7" fill="#262626"/>
<polygon points="489.5,1198.3 525.2,1192 576,1195.6 549.3,1204.6" fill="#333"/>
<polygon points="489.5,1198.3 549.3,1204.6 549.3,1228.2 490,1217.7" fill="#262626"/>
<polygon points="549.3,1204.6 576,1195.6 576,1219.8 549.3,1228.2" fill="#2c2c2c"/>
<polygon points="553,1208 575,1200.5 575,1217.5 553.5,1224.5" fill="#3f4b98"/>
<rect x="500" y="1208" width="6" height="4" fill="#3a3a3a"/><rect x="511" y="1209" width="11" height="6" fill="#333"/>
<text transform="translate(462.5,1259.6) scale(0.84,1)" font-size="22" fill="#222">GPRS</text><text x="516" y="1259" font-size="21.6" fill="#222">无线模块</text>
<!-- cloud + servers -->
<defs>
<linearGradient id="srvG" x1="0" x2="1" y1="0" y2="0"><stop offset="0" stop-color="#3a3a3a"/><stop offset="0.15" stop-color="#6a6a6a"/><stop offset="0.5" stop-color="#4c4c4c"/><stop offset="1" stop-color="#2e2e2e"/></linearGradient>
<linearGradient id="cloudG" x1="0" x2="0" y1="0" y2="1"><stop offset="0" stop-color="#5ccaf0"/><stop offset="0.45" stop-color="#47b3e8"/><stop offset="0.7" stop-color="#2f93d8"/><stop offset="1" stop-color="#1f74c4"/></linearGradient>
</defs>
<g fill="#9ad6f3">
<circle cx="62" cy="1440" r="12"/><circle cx="71" cy="1430" r="10"/><circle cx="80" cy="1438" r="10"/>
<circle cx="160" cy="1423" r="9"/><circle cx="167" cy="1433" r="8"/><circle cx="156" cy="1440" r="9"/>
</g>
<g>
<rect x="72" y="1390.7" width="20" height="62" rx="2.5" fill="url(#srvG)"/>
<rect x="93.4" y="1390.7" width="19.3" height="62" rx="2.5" fill="url(#srvG)"/>
<rect x="114" y="1390.7" width="19.7" height="62" rx="2.5" fill="url(#srvG)"/>
<rect x="135" y="1390.7" width="19.6" height="62" rx="2.5" fill="url(#srvG)"/>
</g>
<g fill="#bdbdbd"><rect x="73.5" y="1398.8" width="17" height="10"/><rect x="94.8" y="1398.8" width="16.5" height="10"/><rect x="115.5" y="1398.8" width="16.7" height="10"/><rect x="136.5" y="1398.8" width="16.6" height="10"/></g>
<rect x="73.8" y="1401.5" width="16.4" height="5.5" fill="#3ee0dc"/>
<rect x="95" y="1401.5" width="16" height="5.5" fill="#c04cc8"/>
<rect x="115.8" y="1401.5" width="16.2" height="5.5" fill="#d9603e"/>
<rect x="136.8" y="1401.5" width="16" height="5.5" fill="#b8da36"/>
<g fill="#111"><rect x="74" y="1410.3" width="16" height="2"/><rect x="95.2" y="1410.3" width="15.6" height="2"/><rect x="116" y="1410.3" width="15.8" height="2"/><rect x="137" y="1410.3" width="15.6" height="2"/></g>
<g fill="#2c2c2c"><rect x="74" y="1414" width="16" height="9"/><rect x="95.2" y="1414" width="15.6" height="9"/><rect x="116" y="1414" width="15.8" height="9"/><rect x="137" y="1414" width="15.6" height="9"/></g>
<g fill="url(#cloudG)">
<path d="M52,1478 C50,1466 60,1458 70,1461 C72,1450 80,1443 89,1444 C92,1432 102,1426 113,1426 C125,1426 133,1435 134,1445 C144,1443 151,1449 152,1458 C162,1458 169,1466 169,1476 C169,1487 161,1492 153,1491 C149,1497 140,1499 133,1496 C128,1501 117,1502 111,1498 C103,1503 92,1501 88,1495 C80,1497 72,1495 68,1491 C58,1492 52,1486 52,1478 Z"/>
</g>
<text x="31" y="1587.2" font-size="21.3" fill="#222">登录访问</text>
<g id="room">
<defs><linearGradient id="slabG" x1="0" x2="1" y1="0" y2="0"><stop offset="0" stop-color="#8c8c8c"/><stop offset="0.3" stop-color="#bdbdbd"/><stop offset="1" stop-color="#a5a5a5"/></linearGradient>
<linearGradient id="legG" x1="0" x2="1" y1="0" y2="0"><stop offset="0" stop-color="#3c3c3c"/><stop offset="0.5" stop-color="#6a6a6a"/><stop offset="1" stop-color="#4a4a4a"/></linearGradient>
<linearGradient id="deskG" x1="0" x2="1" y1="0" y2="0"><stop offset="0" stop-color="#e4e4e4"/><stop offset="1" stop-color="#f6f6f6"/></linearGradient></defs>
<defs><linearGradient id="floorG" x1="0" x2="0" y1="0" y2="1"><stop offset="0" stop-color="#9a9a9a"/><stop offset="0.5" stop-color="#cdcdcd"/><stop offset="1" stop-color="#f6f6f6"/></linearGradient></defs>
<polygon points="131.2,1728.6 148.8,1718.9 217.0,1699.4 285.3,1683.8 290.1,1699.4 256.0,1718.9 228.7,1744.2 181.9,1754.0 139.0,1741.3" fill="url(#floorG)" />
<polygon points="147.8,1694.5 262.2,1664.3 262.8,1679.9 236.5,1697.4 176.1,1713.0 133.2,1728.6 123.4,1716.9 133.2,1701.3" fill="#444" />
<polygon points="148.8,1697.8 259.9,1666.2 259.9,1669.1 148.8,1701.3" fill="#5a5a5a" />
<polygon points="111.3,1660.0 248.6,1653.3 248.6,1658.0 115.2,1682.2" fill="#151515" />
<polygon points="106.0,1661.9 113.7,1659.6 115.2,1682.8 148.0,1694.1 148.0,1700.3 134.1,1704.2 125.0,1716.9 123.0,1730.9 109.9,1728.0" fill="#bcbcbc" />
<polygon points="106.0,1661.9 108.8,1661.1 111.7,1728.6 109.9,1728.0" fill="#a8a8a8" />
<path d="M148.0,1694.1 C129.3,1699.4 116.6,1716.9 117.9,1730.0 L130.0,1738.0 C127.3,1720.8 135.1,1707.2 151.1,1698.4 Z" fill="#555"/>
<path d="M151.1,1698.4 C137.1,1705.2 129.3,1718.9 131.2,1734.5 L135.1,1732.5 C134.1,1720.8 140.0,1709.1 152.7,1702.3 Z" fill="#444"/>
<polygon points="129.3,1730.0 139.0,1730.6 140.0,1738.0 130.2,1738.0" fill="#1e1e1e" />
<polygon points="115.2,1681.8 248.6,1657.4 262.2,1662.3 147.8,1693.5" fill="url(#deskG)" />
<polygon points="147.8,1693.5 262.2,1662.3 262.2,1664.6 147.8,1696.6" fill="#111" />
<polygon points="115.2,1681.8 147.8,1693.5 147.8,1696.6 115.2,1684.1" fill="#222" />
<polygon points="155.6,1681.8 178.0,1678.9 180.9,1680.8 158.5,1683.8" fill="#111" />
<polygon points="237.5,1663.9 250.2,1662.3 251.1,1663.5 238.8,1665.0" fill="#111" />
<polygon points="130.2,1652.9 155.6,1651.6 155.6,1673.0 130.8,1675.0" fill="#161616" />
<polygon points="131.4,1654.3 154.4,1652.9 154.4,1671.5 132.0,1673.4" fill="#dfe3e6" />
<polygon points="137.3,1663.0 145.9,1661.6 145.9,1667.5 137.3,1668.2" fill="#3aa84a" />
<polygon points="137.8,1665.5 145.4,1664.7 145.4,1667.5 137.8,1668.2" fill="#2a6ad0" />
<polygon points="140.4,1660.4 144.2,1660.1 144.2,1662.4 140.4,1662.8" fill="#e0a030" />
<polygon points="156.6,1650.2 177.0,1648.7 177.0,1670.1 156.6,1672.1" fill="#161616" />
<polygon points="157.7,1651.6 175.9,1650.0 175.9,1668.5 157.7,1670.5" fill="#dfe3e6" />
<polygon points="159.6,1654.1 174.0,1652.6 174.0,1665.2 159.6,1667.2" fill="#8a8f94" />
<polygon points="167.8,1659.6 174.6,1659.2 174.6,1663.5 167.8,1663.9" fill="#3aa84a" />
<polygon points="185.8,1647.1 202.4,1645.9 202.4,1664.3 186.2,1665.8" fill="#161616" />
<polygon points="187.0,1648.5 201.2,1647.3 201.2,1662.7 187.4,1664.3" fill="#dfe3e6" />
<polygon points="190.4,1655.5 196.1,1654.1 196.1,1660.0 190.4,1660.7" fill="#3aa84a" />
<polygon points="190.8,1658.0 195.7,1657.2 195.7,1660.0 190.8,1660.7" fill="#2a6ad0" />
<polygon points="192.4,1652.9 194.9,1652.6 194.9,1654.9 192.4,1655.3" fill="#e0a030" />
<polygon points="203.4,1645.1 218.0,1644.0 218.0,1661.3 203.4,1662.7" fill="#161616" />
<polygon points="204.5,1646.5 216.8,1645.3 216.8,1659.8 204.5,1661.1" fill="#dfe3e6" />
<polygon points="205.5,1649.0 215.8,1647.9 215.8,1656.5 205.5,1657.8" fill="#8a8f94" />
<polygon points="211.4,1652.4 216.2,1652.0 216.2,1656.3 211.4,1656.6" fill="#3aa84a" />
<polygon points="223.8,1643.2 235.5,1642.4 235.5,1658.0 223.8,1659.2" fill="#161616" />
<polygon points="225.0,1644.6 234.4,1643.8 234.4,1656.5 225.0,1657.6" fill="#dfe3e6" />
<polygon points="227.1,1650.2 231.1,1648.8 231.1,1654.7 227.1,1655.5" fill="#3aa84a" />
<polygon points="227.3,1652.7 230.9,1652.0 230.9,1654.7 227.3,1655.5" fill="#2a6ad0" />
<polygon points="228.5,1647.7 230.3,1647.3 230.3,1649.6 228.5,1650.0" fill="#e0a030" />
<polygon points="236.5,1642.0 247.2,1641.2 247.2,1656.1 236.5,1657.2" fill="#161616" />
<polygon points="237.7,1643.4 246.1,1642.6 246.1,1654.5 237.7,1655.7" fill="#dfe3e6" />
<polygon points="238.1,1645.9 245.6,1645.1 245.6,1651.2 238.1,1652.4" fill="#8a8f94" />
<polygon points="242.4,1648.1 245.9,1647.7 245.9,1652.0 242.4,1652.4" fill="#3aa84a" />
<line x1="271.0" y1="1685.0" x2="269.7" y2="1691.7" stroke="#555" stroke-width="1.6" stroke-linecap="round"/>
<line x1="269.7" y1="1691.7" x2="257.0" y2="1702.0" stroke="#a0a0a0" stroke-width="1.4" stroke-linecap="round"/>
<circle cx="257.0" cy="1703.2" r="1.2" fill="#111"/>
<line x1="269.7" y1="1691.7" x2="277.7" y2="1704.4" stroke="#a0a0a0" stroke-width="1.4" stroke-linecap="round"/>
<circle cx="277.7" cy="1705.6" r="1.2" fill="#111"/>
<line x1="269.7" y1="1691.7" x2="285.7" y2="1699.8" stroke="#a0a0a0" stroke-width="1.4" stroke-linecap="round"/>
<circle cx="285.7" cy="1701.0" r="1.2" fill="#111"/>
<line x1="269.7" y1="1691.7" x2="281.1" y2="1694.0" stroke="#a0a0a0" stroke-width="1.4" stroke-linecap="round"/>
<circle cx="281.1" cy="1695.2" r="1.2" fill="#111"/>
<line x1="269.7" y1="1691.7" x2="260.5" y2="1695.2" stroke="#a0a0a0" stroke-width="1.4" stroke-linecap="round"/>
<circle cx="260.5" cy="1696.4" r="1.2" fill="#111"/>
<polygon points="262.8,1673.3 281.1,1668.7 283.4,1683.7 269.7,1686.0 264.0,1680.0" fill="#1c1c1c" />
<polygon points="277.7,1659.5 288.0,1655.5 289.5,1658.0 288.6,1676.8 283.4,1683.7 278.9,1681.4 276.5,1668.0" fill="#161616" />
<polygon points="263.0,1669.5 271.0,1667.5 272.0,1669.5 264.0,1671.5" fill="#161616" />
<polyline points="285.0,1668.0 286.0,1680.0 283.0,1684.0" fill="none" stroke="#d8d8d8" stroke-width="1.1"/>
<line x1="243.0" y1="1696.0" x2="242.0" y2="1704.4" stroke="#555" stroke-width="1.6" stroke-linecap="round"/>
<line x1="242.0" y1="1704.4" x2="223.7" y2="1715.9" stroke="#a0a0a0" stroke-width="1.4" stroke-linecap="round"/>
<circle cx="223.7" cy="1717.1" r="1.4" fill="#111"/>
<line x1="242.0" y1="1704.4" x2="249.0" y2="1720.5" stroke="#a0a0a0" stroke-width="1.4" stroke-linecap="round"/>
<circle cx="249.0" cy="1721.7" r="1.4" fill="#111"/>
<line x1="242.0" y1="1704.4" x2="260.5" y2="1713.6" stroke="#a0a0a0" stroke-width="1.4" stroke-linecap="round"/>
<circle cx="260.5" cy="1714.8" r="1.4" fill="#111"/>
<line x1="242.0" y1="1704.4" x2="253.6" y2="1704.4" stroke="#a0a0a0" stroke-width="1.4" stroke-linecap="round"/>
<circle cx="253.6" cy="1705.6" r="1.4" fill="#111"/>
<line x1="242.0" y1="1704.4" x2="228.3" y2="1707.8" stroke="#a0a0a0" stroke-width="1.4" stroke-linecap="round"/>
<circle cx="228.3" cy="1709.0" r="1.4" fill="#111"/>
<polygon points="223.7,1683.7 249.0,1678.0 254.7,1695.2 235.2,1698.6 226.0,1694.0" fill="#1c1c1c" />
<polygon points="249.0,1668.7 262.8,1667.6 262.2,1689.4 254.7,1697.5 249.0,1694.0 247.5,1680.0" fill="#161616" />
<polygon points="249.0,1653.0 258.0,1652.0 260.0,1657.0 259.0,1668.0 250.0,1669.0 248.0,1660.0" fill="#161616" />
<polyline points="256.0,1679.0 257.5,1692.0 253.0,1698.0 240.0,1699.0" fill="none" stroke="#d8d8d8" stroke-width="1.1"/>
<polyline points="261.0,1670.0 262.0,1690.0" fill="none" stroke="#d8d8d8" stroke-width="1.1"/>
<line x1="198.0" y1="1716.0" x2="197.2" y2="1724.0" stroke="#555" stroke-width="1.6" stroke-linecap="round"/>
<line x1="197.2" y1="1724.0" x2="181.0" y2="1733.0" stroke="#a0a0a0" stroke-width="1.4" stroke-linecap="round"/>
<circle cx="181.0" cy="1734.2" r="1.6" fill="#111"/>
<line x1="197.2" y1="1724.0" x2="203.0" y2="1748.0" stroke="#a0a0a0" stroke-width="1.4" stroke-linecap="round"/>
<circle cx="203.0" cy="1749.2" r="1.6" fill="#111"/>
<line x1="197.2" y1="1724.0" x2="221.4" y2="1735.4" stroke="#a0a0a0" stroke-width="1.4" stroke-linecap="round"/>
<circle cx="221.4" cy="1736.6" r="1.6" fill="#111"/>
<line x1="197.2" y1="1724.0" x2="218.0" y2="1726.0" stroke="#a0a0a0" stroke-width="1.4" stroke-linecap="round"/>
<circle cx="218.0" cy="1727.2" r="1.6" fill="#111"/>
<line x1="197.2" y1="1724.0" x2="186.0" y2="1725.5" stroke="#a0a0a0" stroke-width="1.4" stroke-linecap="round"/>
<circle cx="186.0" cy="1726.7" r="1.6" fill="#111"/>
<polygon points="182.3,1699.8 203.0,1695.2 207.6,1709.0 205.3,1718.2 186.9,1719.3 181.1,1711.3" fill="#1c1c1c" />
<polygon points="202.4,1664.1 217.9,1662.4 220.2,1669.9 219.7,1694.0 214.5,1704.4 206.4,1709.0 201.8,1704.4 200.7,1683.7" fill="#161616" />
<polygon points="205.0,1661.5 216.0,1660.5 218.0,1664.0 204.0,1666.0" fill="#161616" />
<polyline points="207.5,1697.0 208.8,1713.0 200.0,1716.0 186.0,1717.0" fill="none" stroke="#d8d8d8" stroke-width="1.1"/>
<polyline points="219.5,1685.0 220.0,1708.0 213.0,1714.0" fill="none" stroke="#d8d8d8" stroke-width="1.1"/>
</g></svg>
</body></html>
